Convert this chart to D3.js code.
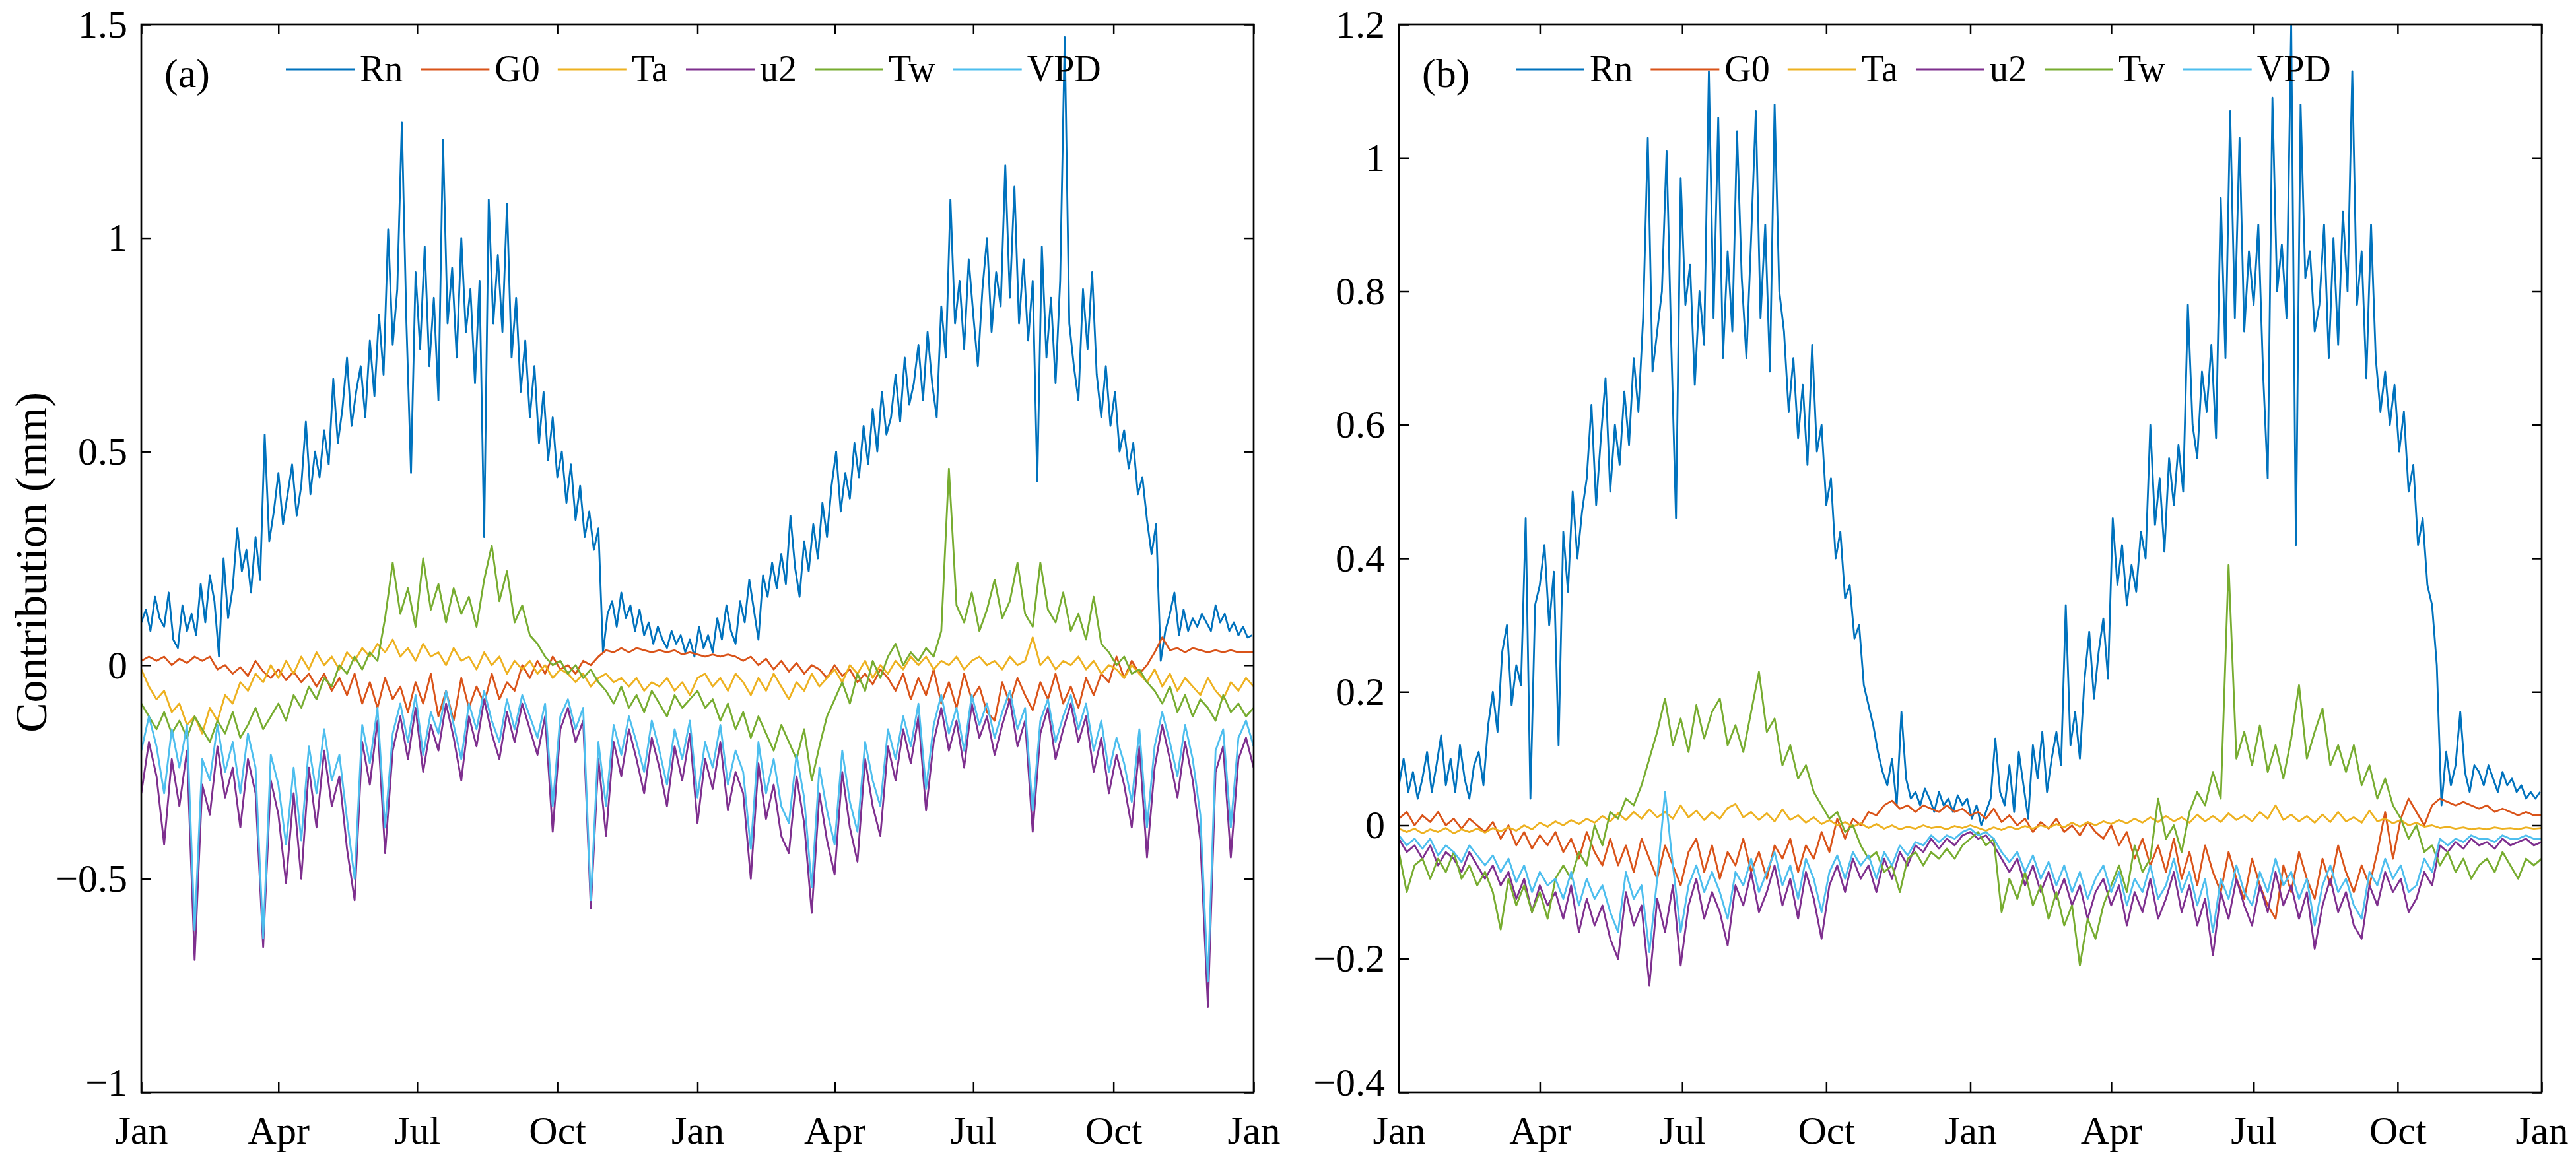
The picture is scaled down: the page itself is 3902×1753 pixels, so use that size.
<!DOCTYPE html>
<html>
<head>
<meta charset="utf-8">
<script src="https://cdn.jsdelivr.net/npm/d3@7"></script>
<style>
  body { margin: 0; background: #fff; }
  text { font-family: "Liberation Serif", "Times New Roman", serif; fill: #000; }
</style>
</head>
<body>
<svg id="chart"></svg>
<script>
// series order = plotting order = legend order
var seriesNames = ["Rn", "G0", "Ta", "u2", "Tw", "VPD"];
var seriesColors = ["#0072BD", "#D95319", "#EDB120", "#7E2F8E", "#77AC30", "#4DBEEE"];

// two years, 1 Jan of year 1 to 1 Jan of year 3
var startDate = new Date(Date.UTC(2018, 0, 1));
var totalDays = 730;
var rnStepDays = 3;   // Rn read every 3 days
var stepDays = 5;     // the other series every 5 days

var monthTickLabels = ["Jan", "Apr", "Jul", "Oct", "Jan", "Apr", "Jul", "Oct", "Jan"];

// ---- panel (a)
var rnA = [
  0.10, 0.13, 0.08, 0.16, 0.11, 0.09, 0.17, 0.06, 0.04, 0.14,
  0.08, 0.12, 0.07, 0.19, 0.10, 0.21, 0.15, 0.02, 0.25, 0.11,
  0.18, 0.32, 0.22, 0.27, 0.17, 0.30, 0.20, 0.54, 0.29, 0.36,
  0.45, 0.33, 0.40, 0.47, 0.35, 0.42, 0.57, 0.40, 0.50, 0.44,
  0.55, 0.47, 0.67, 0.52, 0.60, 0.72, 0.56, 0.64, 0.70, 0.58,
  0.76, 0.63, 0.82, 0.68, 1.02, 0.75, 0.88, 1.27, 0.80, 0.45,
  0.92, 0.74, 0.98, 0.70, 0.86, 0.62, 1.23, 0.80, 0.93, 0.72,
  1.00, 0.78, 0.88, 0.66, 0.90, 0.30, 1.09, 0.80, 0.96, 0.78,
  1.08, 0.72, 0.86, 0.64, 0.76, 0.58, 0.70, 0.52, 0.64, 0.48,
  0.58, 0.44, 0.50, 0.38, 0.47, 0.34, 0.42, 0.30, 0.36, 0.27,
  0.32, 0.03, 0.12, 0.15, 0.09, 0.17, 0.11, 0.14, 0.08, 0.13,
  0.07, 0.10, 0.05, 0.09, 0.06, 0.04, 0.08, 0.05, 0.07, 0.03,
  0.06, 0.02, 0.09, 0.04, 0.07, 0.03, 0.11, 0.06, 0.14, 0.08,
  0.05, 0.15, 0.10, 0.20, 0.13, 0.06, 0.21, 0.16, 0.24, 0.18,
  0.26, 0.19, 0.35, 0.23, 0.16, 0.29, 0.22, 0.33, 0.25, 0.38,
  0.30, 0.42, 0.50, 0.36, 0.45, 0.39, 0.52, 0.44, 0.56, 0.47,
  0.60, 0.50, 0.64, 0.54, 0.58, 0.68, 0.57, 0.72, 0.61, 0.66,
  0.75, 0.62, 0.78, 0.66, 0.58, 0.84, 0.72, 1.09, 0.80, 0.90,
  0.74, 0.95, 0.82, 0.70, 0.88, 1.00, 0.78, 0.92, 0.84, 1.17,
  0.86, 1.12, 0.80, 0.95, 0.76, 0.90, 0.43, 0.98, 0.72, 0.86,
  0.66, 0.90, 1.47, 0.80, 0.70, 0.62, 0.88, 0.74, 0.92, 0.68,
  0.58, 0.70, 0.56, 0.64, 0.50, 0.55, 0.46, 0.52, 0.40, 0.44,
  0.34, 0.26, 0.33, 0.01, 0.08, 0.12, 0.17, 0.07, 0.13, 0.08,
  0.11, 0.09, 0.12, 0.10, 0.08, 0.14, 0.10, 0.12, 0.08, 0.10,
  0.07, 0.09, 0.065, 0.07
];
var g0A = [
  0.01, 0.02, 0.01, 0.02, 0.00, 0.015, 0.005, 0.02, 0.01, 0.02,
  -0.01, 0.00, -0.02, -0.005, -0.025, 0.01, -0.015, -0.03, -0.01, -0.035,
  -0.015, -0.04, -0.02, -0.05, -0.02, -0.06, -0.03, -0.07, -0.02, -0.09,
  -0.04, -0.10, -0.03, -0.08, -0.05, -0.11, -0.04, -0.09, -0.02, -0.12,
  -0.06, -0.13, -0.03, -0.10, -0.05, -0.09, -0.02, -0.08, -0.04, -0.06,
  0.00, -0.03, 0.01, -0.02, 0.02, -0.01, 0.00, -0.02, 0.01, 0.00,
  0.02, 0.035, 0.03, 0.04, 0.03, 0.04, 0.035, 0.03, 0.035, 0.03,
  0.035, 0.025, 0.03, 0.025, 0.02, 0.025, 0.02, 0.025, 0.02, 0.01,
  0.02, 0.00, 0.015, -0.01, 0.01, -0.015, 0.005, -0.02, 0.00, -0.01,
  -0.03, 0.00, -0.025, -0.01, -0.04, -0.02, -0.045, -0.01, -0.03, -0.06,
  -0.02, -0.08, -0.03, -0.07, -0.01, -0.09, -0.04, -0.10, -0.02, -0.08,
  -0.05, -0.11, -0.13, -0.04, -0.09, -0.03, -0.07, -0.105, -0.04, -0.08,
  -0.02, -0.09, -0.05, -0.10, -0.03, -0.07, -0.02, -0.04, 0.02, -0.03,
  0.01, -0.02, 0.00, 0.03, 0.065, 0.035, 0.04, 0.03, 0.04, 0.035,
  0.03, 0.035, 0.03, 0.035, 0.03, 0.03, 0.03
];
var taA = [
  -0.01, -0.05, -0.08, -0.06, -0.11, -0.09, -0.14, -0.12, -0.16, -0.10,
  -0.13, -0.07, -0.09, -0.04, -0.06, -0.02, -0.04, 0.00, -0.03, 0.01,
  -0.02, 0.02, -0.01, 0.03, 0.00, 0.02, -0.01, 0.03, 0.01, 0.04,
  0.02, 0.05, 0.03, 0.06, 0.02, 0.04, 0.01, 0.05, 0.02, 0.03,
  0.00, 0.04, 0.01, 0.02, -0.01, 0.03, 0.00, 0.02, -0.02, 0.01,
  -0.01, 0.01, -0.02, 0.00, -0.03, -0.01, -0.02, -0.04, -0.02, -0.05,
  -0.03, -0.02, -0.04, -0.03, -0.05, -0.03, -0.06, -0.04, -0.05, -0.03,
  -0.06, -0.04, -0.07, -0.03, -0.02, -0.05, -0.03, -0.06, -0.02, -0.04,
  -0.07, -0.03, -0.06, -0.02, -0.05, -0.08, -0.04, -0.06, -0.02, -0.05,
  -0.03, -0.01, -0.04, 0.00, -0.02, 0.01, -0.03, 0.00, -0.02, 0.01,
  -0.01, 0.02, 0.00, 0.02, -0.01, 0.01, 0.00, 0.02, -0.01, 0.01,
  0.02, 0.00, 0.01, -0.01, 0.02, 0.00, 0.01, 0.065, 0.00, 0.02,
  -0.01, 0.01, 0.00, 0.02, -0.01, 0.01, -0.02, 0.00, -0.01, -0.03,
  0.00, -0.02, -0.04, -0.01, -0.05, -0.02, -0.06, -0.03, -0.05, -0.07,
  -0.03, -0.06, -0.08, -0.04, -0.06, -0.03, -0.05
];
var u2A = [
  -0.30, -0.18, -0.26, -0.42, -0.22, -0.33, -0.20, -0.69, -0.28, -0.35,
  -0.19, -0.31, -0.24, -0.38, -0.22, -0.30, -0.66, -0.27, -0.35, -0.51,
  -0.30, -0.50, -0.24, -0.38, -0.20, -0.33, -0.26, -0.43, -0.55, -0.18,
  -0.28, -0.13, -0.44, -0.20, -0.12, -0.22, -0.10, -0.25, -0.14, -0.20,
  -0.09, -0.17, -0.27, -0.12, -0.19, -0.08, -0.16, -0.22, -0.11, -0.18,
  -0.09, -0.15, -0.21, -0.12, -0.39, -0.15, -0.10, -0.18, -0.13, -0.57,
  -0.22, -0.40, -0.18, -0.26, -0.15, -0.22, -0.30, -0.17, -0.24, -0.33,
  -0.19, -0.27, -0.16, -0.37, -0.22, -0.29, -0.18, -0.34, -0.25, -0.30,
  -0.50, -0.23, -0.36, -0.28, -0.40, -0.44, -0.26, -0.37, -0.58, -0.30,
  -0.41, -0.49, -0.25, -0.38, -0.46, -0.22, -0.33, -0.40, -0.19, -0.27,
  -0.15, -0.23, -0.12, -0.34, -0.18, -0.10, -0.20, -0.13, -0.24, -0.09,
  -0.17, -0.12, -0.21, -0.14, -0.08, -0.19, -0.13, -0.39, -0.16, -0.10,
  -0.22, -0.15, -0.09, -0.18, -0.12, -0.25, -0.17, -0.30, -0.21, -0.28,
  -0.38, -0.19, -0.45, -0.24, -0.14, -0.22, -0.31, -0.18, -0.27, -0.41,
  -0.80, -0.25, -0.19, -0.45, -0.22, -0.17, -0.24
];
var twA = [
  -0.09, -0.12, -0.15, -0.11, -0.16, -0.13, -0.17, -0.12, -0.15, -0.18,
  -0.13, -0.16, -0.11, -0.17, -0.14, -0.10, -0.15, -0.12, -0.09, -0.13,
  -0.07, -0.10, -0.05, -0.08, -0.03, -0.05, 0.00, -0.02, 0.02, -0.01,
  0.03, 0.01, 0.11, 0.24, 0.12, 0.18, 0.09, 0.25, 0.13, 0.19,
  0.10, 0.18, 0.12, 0.16, 0.09, 0.20, 0.28, 0.15, 0.22, 0.10,
  0.14, 0.07, 0.05, 0.02, 0.00, 0.01, -0.02, 0.00, -0.03, -0.01,
  -0.04, -0.06, -0.09, -0.05, -0.10, -0.07, -0.11, -0.06, -0.09, -0.12,
  -0.07, -0.10, -0.08, -0.06, -0.10, -0.08, -0.13, -0.09, -0.15, -0.11,
  -0.17, -0.12, -0.16, -0.20, -0.14, -0.18, -0.22, -0.15, -0.27, -0.19,
  -0.12, -0.08, -0.04, -0.09, -0.02, -0.06, 0.01, -0.03, 0.02, 0.05,
  0.00, 0.03, 0.01, 0.04, 0.02, 0.08, 0.46, 0.14, 0.10, 0.17,
  0.08, 0.13, 0.20, 0.11, 0.15, 0.24, 0.12, 0.09, 0.24, 0.13,
  0.10, 0.17, 0.08, 0.12, 0.06, 0.16, 0.05, 0.03, 0.00, 0.02,
  -0.02, -0.01, -0.04, -0.06, -0.09, -0.05, -0.11, -0.07, -0.12, -0.08,
  -0.10, -0.13, -0.07, -0.11, -0.09, -0.12, -0.10
];
var vpdA = [
  -0.20, -0.12, -0.19, -0.30, -0.15, -0.24, -0.14, -0.62, -0.22, -0.27,
  -0.14, -0.25, -0.18, -0.30, -0.16, -0.24, -0.64, -0.21, -0.28, -0.42,
  -0.24, -0.41, -0.19, -0.30, -0.15, -0.27, -0.21, -0.36, -0.50, -0.14,
  -0.23, -0.10, -0.38, -0.16, -0.09, -0.18, -0.07, -0.21, -0.11, -0.16,
  -0.06, -0.14, -0.22, -0.09, -0.15, -0.06, -0.13, -0.18, -0.08, -0.15,
  -0.07, -0.12, -0.17, -0.09, -0.33, -0.12, -0.08, -0.15, -0.10, -0.55,
  -0.18, -0.33, -0.14, -0.21, -0.12, -0.18, -0.25, -0.13, -0.20, -0.28,
  -0.15, -0.22, -0.13, -0.31, -0.18, -0.24, -0.14, -0.28, -0.20, -0.25,
  -0.43, -0.18, -0.30, -0.22, -0.33, -0.37, -0.21, -0.31, -0.52, -0.24,
  -0.34, -0.42, -0.20, -0.32, -0.39, -0.18, -0.27, -0.33, -0.15, -0.22,
  -0.12, -0.19, -0.09, -0.29, -0.14, -0.07, -0.16, -0.10, -0.20, -0.07,
  -0.14, -0.09, -0.17, -0.11, -0.06, -0.15, -0.10, -0.34, -0.13, -0.08,
  -0.18, -0.12, -0.07, -0.15, -0.09, -0.20, -0.13, -0.25, -0.17, -0.23,
  -0.32, -0.15, -0.38, -0.19, -0.11, -0.18, -0.26, -0.14, -0.22, -0.35,
  -0.74, -0.20, -0.15, -0.38, -0.17, -0.13, -0.19
];

// ---- panel (b)
var rnB = [
  0.06, 0.10, 0.05, 0.08, 0.04, 0.07, 0.11, 0.05, 0.09, 0.135,
  0.06, 0.10, 0.05, 0.12, 0.07, 0.04, 0.09, 0.11, 0.06, 0.15,
  0.20, 0.14, 0.26, 0.30, 0.18, 0.24, 0.21, 0.46, 0.04, 0.33,
  0.36, 0.42, 0.30, 0.38, 0.12, 0.44, 0.35, 0.50, 0.40, 0.47,
  0.52, 0.63, 0.48, 0.58, 0.67, 0.50, 0.60, 0.54, 0.65, 0.57,
  0.70, 0.62, 0.76, 1.03, 0.68, 0.74, 0.80, 1.01, 0.72, 0.46,
  0.97, 0.78, 0.84, 0.66, 0.80, 0.72, 1.13, 0.76, 1.06, 0.70,
  0.86, 0.74, 1.04, 0.82, 0.70, 0.88, 1.07, 0.76, 0.90, 0.68,
  1.08, 0.80, 0.74, 0.62, 0.70, 0.58, 0.66, 0.54, 0.72, 0.56,
  0.60, 0.48, 0.52, 0.40, 0.44, 0.34, 0.36, 0.28, 0.30, 0.21,
  0.18, 0.15, 0.11, 0.08, 0.06, 0.10, 0.03, 0.17, 0.07, 0.04,
  0.05, 0.03, 0.055, 0.04, 0.02, 0.05, 0.03, 0.04, 0.02, 0.045,
  0.03, 0.04, 0.01, 0.03, 0.00, 0.02, 0.04, 0.13, 0.05, 0.03,
  0.09, 0.02, 0.11, 0.06, 0.01, 0.12, 0.07, 0.14, 0.05, 0.10,
  0.14, 0.09, 0.33, 0.12, 0.17, 0.10, 0.22, 0.29, 0.19, 0.26,
  0.31, 0.22, 0.46, 0.36, 0.42, 0.33, 0.39, 0.35, 0.44, 0.40,
  0.60, 0.45, 0.52, 0.41, 0.55, 0.48, 0.57, 0.50, 0.78, 0.60,
  0.55, 0.68, 0.62, 0.72, 0.58, 0.94, 0.70, 1.07, 0.76, 1.03,
  0.74, 0.86, 0.78, 0.90, 0.68, 0.52, 1.09, 0.80, 0.87, 0.76,
  1.20, 0.42, 1.08, 0.82, 0.86, 0.74, 0.78, 0.90, 0.70, 0.88,
  0.72, 0.92, 0.80, 1.13, 0.78, 0.86, 0.67, 0.90, 0.70, 0.62,
  0.68, 0.60, 0.66, 0.56, 0.62, 0.50, 0.54, 0.42, 0.46, 0.36,
  0.33, 0.24, 0.03, 0.11, 0.06, 0.09, 0.17, 0.08, 0.05, 0.09,
  0.08, 0.06, 0.09, 0.07, 0.05, 0.08, 0.06, 0.07, 0.05, 0.06,
  0.04, 0.05, 0.04, 0.05
];
var g0B = [
  0.01, 0.02, 0.00, 0.015, 0.005, 0.02, 0.00, 0.01, -0.005, 0.01,
  0.00, -0.01, 0.005, -0.02, 0.00, -0.03, -0.01, -0.035, -0.015, -0.03,
  -0.01, -0.04, -0.02, -0.05, -0.01, -0.04, -0.06, -0.02, -0.06, -0.03,
  -0.07, -0.02, -0.05, -0.08, -0.03, -0.06, -0.09, -0.04, -0.02, -0.07,
  -0.03, -0.08, -0.04, -0.06, -0.02, -0.07, -0.04, -0.08, -0.03, -0.05,
  -0.02, -0.07, -0.03, -0.05, -0.01, -0.04, 0.01, -0.02, 0.01, 0.00,
  0.02, 0.015, 0.03, 0.037, 0.025, 0.03, 0.02, 0.03, 0.025, 0.02,
  0.03, 0.02, 0.025, 0.015, 0.02, 0.01, 0.025, 0.005, 0.015, 0.00,
  0.01, -0.01, 0.005, -0.005, 0.01, -0.01, 0.00, -0.015, 0.005, -0.01,
  -0.02, 0.00, -0.03, -0.01, -0.05, -0.02, -0.06, -0.03, -0.07, -0.02,
  -0.08, -0.04, -0.09, -0.03, -0.07, -0.10, -0.04, -0.08, -0.11, -0.05,
  -0.09, -0.12, -0.14, -0.06, -0.10, -0.04, -0.08, -0.11, -0.05, -0.09,
  -0.03, -0.07, -0.10, -0.06, -0.09, -0.04, 0.02, -0.05, 0.01, 0.04,
  0.02, 0.00, 0.03, 0.04, 0.035, 0.03, 0.035, 0.03, 0.025, 0.03,
  0.02, 0.025, 0.02, 0.015, 0.02, 0.015, 0.015
];
var taB = [
  -0.005, -0.01, -0.005, -0.012, -0.006, -0.01, -0.004, -0.012, -0.006, -0.01,
  -0.005, -0.011, -0.004, -0.009, -0.003, -0.008, 0.00, -0.006, 0.004, -0.002,
  0.006, 0.00, 0.008, 0.002, 0.01, 0.004, 0.014, 0.006, 0.018, 0.008,
  0.02, 0.01, 0.024, 0.012, 0.02, 0.01, 0.03, 0.012, 0.022, 0.008,
  0.02, 0.01, 0.026, 0.032, 0.012, 0.02, 0.008, 0.018, 0.006, 0.024,
  0.008, 0.015, 0.004, 0.012, 0.002, 0.008, 0.00, 0.005, -0.002, 0.003,
  -0.004, 0.002, -0.005, 0.00, -0.006, -0.002, -0.005, 0.00, -0.004, -0.002,
  -0.006, -0.001, -0.004, 0.00, -0.004, -0.008, -0.003, -0.007, -0.002, -0.006,
  -0.001, -0.005, 0.00, -0.004, 0.002, -0.003, 0.004, -0.002, 0.005, 0.00,
  0.006, 0.002, 0.008, 0.003, 0.01, 0.004, 0.012, 0.005, 0.014, 0.006,
  0.012, 0.004, 0.016, 0.006, 0.014, 0.005, 0.018, 0.008, 0.015, 0.006,
  0.02, 0.01, 0.03, 0.008, 0.016, 0.006, 0.014, 0.004, 0.016, 0.005,
  0.02, 0.006, 0.012, 0.004, 0.022, 0.006, 0.01, 0.003, 0.008, 0.00,
  0.004, -0.002, 0.00, -0.004, -0.002, -0.005, -0.003, -0.006, -0.004, -0.006,
  -0.003, -0.005, -0.004, -0.006, -0.003, -0.005, -0.004
];
var u2B = [
  -0.02, -0.04, -0.03, -0.05, -0.03, -0.06, -0.04, -0.05, -0.07, -0.04,
  -0.06, -0.08, -0.06, -0.09, -0.07, -0.11, -0.08, -0.13, -0.09, -0.12,
  -0.10, -0.14, -0.09, -0.16, -0.11, -0.15, -0.12, -0.17, -0.20, -0.10,
  -0.15, -0.12, -0.24, -0.11, -0.16, -0.09, -0.21, -0.12, -0.08, -0.14,
  -0.10, -0.13, -0.18, -0.09, -0.12, -0.07, -0.13, -0.10, -0.06, -0.12,
  -0.08, -0.14, -0.07, -0.11, -0.17, -0.09, -0.06, -0.10, -0.05, -0.08,
  -0.06, -0.10, -0.05, -0.08, -0.04, -0.06, -0.03, -0.04, -0.02, -0.035,
  -0.02, -0.03, -0.015, -0.01, -0.02, -0.015, -0.03, -0.05, -0.07, -0.05,
  -0.09, -0.06, -0.10, -0.07, -0.11, -0.08, -0.12, -0.09, -0.14, -0.10,
  -0.08, -0.12, -0.09, -0.15, -0.10, -0.13, -0.08, -0.14, -0.11, -0.07,
  -0.13, -0.09, -0.15, -0.11, -0.195, -0.10, -0.14, -0.08, -0.12, -0.15,
  -0.09, -0.13, -0.07, -0.12, -0.09, -0.14, -0.10, -0.185, -0.12, -0.08,
  -0.13, -0.10, -0.15, -0.17, -0.09, -0.12, -0.07, -0.10, -0.08, -0.13,
  -0.11, -0.07, -0.09, -0.03, -0.04, -0.025, -0.035, -0.02, -0.03, -0.025,
  -0.035, -0.02, -0.03, -0.025, -0.02, -0.03, -0.025
];
var twB = [
  -0.04, -0.10, -0.06, -0.05, -0.08, -0.05, -0.07, -0.04, -0.08, -0.06,
  -0.09, -0.07, -0.10, -0.156, -0.08, -0.12, -0.09, -0.13, -0.10, -0.14,
  -0.08, -0.06, -0.08, -0.04, -0.06, 0.00, -0.03, 0.02, 0.01, 0.04,
  0.03, 0.06, 0.10, 0.14, 0.19, 0.12, 0.16, 0.11, 0.18, 0.13,
  0.17, 0.19, 0.12, 0.15, 0.11, 0.17, 0.23, 0.14, 0.16, 0.09,
  0.12, 0.07, 0.09, 0.05, 0.03, 0.01, 0.02, -0.01, 0.00, -0.03,
  -0.05, -0.04, -0.07, -0.06, -0.10, -0.05, -0.04, -0.06, -0.04, -0.05,
  -0.035, -0.05, -0.03, -0.02, -0.01, -0.03, -0.02, -0.13, -0.08, -0.11,
  -0.07, -0.12, -0.09, -0.14, -0.10, -0.15, -0.12, -0.21, -0.14, -0.17,
  -0.12, -0.09, -0.06, -0.10, -0.03, -0.07, -0.05, 0.04, -0.02, 0.00,
  -0.04, 0.02, 0.05, 0.03, 0.08, 0.04, 0.39, 0.10, 0.14, 0.09,
  0.15, 0.08, 0.12, 0.07, 0.13, 0.21, 0.10, 0.14, 0.175, 0.09,
  0.12, 0.08, 0.12, 0.06, 0.09, 0.04, 0.07, 0.03, 0.01, -0.02,
  0.00, -0.04, -0.03, -0.06, -0.04, -0.07, -0.05, -0.08, -0.06, -0.05,
  -0.07, -0.04, -0.06, -0.08, -0.05, -0.06, -0.05
];
var vpdB = [
  -0.015, -0.03, -0.02, -0.035, -0.02, -0.045, -0.03, -0.04, -0.055, -0.03,
  -0.045, -0.06, -0.045, -0.07, -0.05, -0.085, -0.06, -0.10, -0.07, -0.09,
  -0.08, -0.11, -0.07, -0.12, -0.08, -0.11, -0.09, -0.13, -0.16, -0.07,
  -0.11, -0.09, -0.19, -0.08, 0.05, -0.06, -0.16, -0.09, -0.06, -0.10,
  -0.07, -0.10, -0.14, -0.07, -0.09, -0.05, -0.10, -0.07, -0.04, -0.09,
  -0.06, -0.11, -0.05, -0.08, -0.13, -0.07, -0.045, -0.08, -0.04, -0.06,
  -0.045, -0.08, -0.04, -0.06, -0.03, -0.045, -0.025, -0.03, -0.015, -0.025,
  -0.015, -0.02, -0.01, -0.005, -0.015, -0.01, -0.02, -0.04, -0.055, -0.04,
  -0.07, -0.045, -0.08, -0.055, -0.09, -0.06, -0.10, -0.07, -0.11, -0.08,
  -0.06, -0.10, -0.07, -0.12, -0.08, -0.10, -0.06, -0.11, -0.09, -0.05,
  -0.10, -0.07, -0.12, -0.08, -0.16, -0.08, -0.11, -0.06, -0.10, -0.12,
  -0.07, -0.10, -0.05, -0.09, -0.07, -0.11, -0.08, -0.15, -0.09, -0.06,
  -0.10, -0.08, -0.12, -0.14, -0.07, -0.09, -0.05, -0.08, -0.06, -0.10,
  -0.09, -0.05, -0.07, -0.02, -0.03, -0.02, -0.025, -0.015, -0.02, -0.02,
  -0.025, -0.015, -0.02, -0.02, -0.015, -0.02, -0.02
];

var yTicksA = [-1, -0.5, 0, 0.5, 1, 1.5];
var yTicksB = [-0.4, -0.2, 0, 0.2, 0.4, 0.6, 0.8, 1, 1.2];

var width = 3902;
var height = 1753;
var tickFont = 60;
var lineW = 2.8;

var panels = [
  { id: "a", label: "(a)", left: 214, right: 1899, top: 37, bottom: 1655,
    yDomain: [-1, 1.5], yTicks: yTicksA, legendX: 433,
    series: [rnA, g0A, taA, u2A, twA, vpdA] },
  { id: "b", label: "(b)", left: 2119, right: 3850, top: 37, bottom: 1655,
    yDomain: [-0.4, 1.2], yTicks: yTicksB, legendX: 2296,
    series: [rnB, g0B, taB, u2B, twB, vpdB] }
];
var seriesSteps = [rnStepDays, stepDays, stepDays, stepDays, stepDays, stepDays];

var endDate = d3.utcDay.offset(startDate, totalDays);

var svg = d3.select("#chart")
  .attr("width", width)
  .attr("height", height)
  .attr("viewBox", "0 0 " + width + " " + height);

svg.append("rect").attr("width", width).attr("height", height).attr("fill", "#fff");

function drawPanel(p) {
  var x = d3.scaleUtc().domain([startDate, endDate]).range([p.left, p.right]);
  var y = d3.scaleLinear().domain(p.yDomain).range([p.bottom, p.top]);
  var g = svg.append("g").attr("class", "panel-" + p.id);

  g.append("clipPath").attr("id", "clip-" + p.id)
    .append("rect")
    .attr("x", p.left).attr("y", p.top)
    .attr("width", p.right - p.left).attr("height", p.bottom - p.top);

  var plot = g.append("g").attr("clip-path", "url(#clip-" + p.id + ")");
  p.series.forEach(function (vals, k) {
    var step = seriesSteps[k];
    var line = d3.line()
      .x(function (d, i) { return x(d3.utcDay.offset(startDate, i * step)); })
      .y(function (d) { return y(d); });
    plot.append("path")
      .datum(vals)
      .attr("d", line)
      .attr("fill", "none")
      .attr("stroke", seriesColors[k])
      .attr("stroke-width", lineW)
      .attr("stroke-linejoin", "round");
  });

  var xTicks = x.ticks(d3.utcMonth.every(3));

  // bottom axis, ticks pointing in
  var xb = g.append("g")
    .attr("transform", "translate(0," + p.bottom + ")")
    .call(d3.axisBottom(x).tickValues(xTicks).tickSize(-15).tickPadding(35)
      .tickFormat(function (d, i) { return monthTickLabels[i]; }));
  // top axis, ticks only
  var xt = g.append("g")
    .attr("transform", "translate(0," + p.top + ")")
    .call(d3.axisTop(x).tickValues(xTicks).tickSize(-15).tickFormat(""));
  // left axis
  var yl = g.append("g")
    .attr("transform", "translate(" + p.left + ",0)")
    .call(d3.axisLeft(y).tickValues(p.yTicks).tickSize(-15).tickPadding(21)
      .tickFormat(d3.format(".1~f")));
  // right axis, ticks only
  var yr = g.append("g")
    .attr("transform", "translate(" + p.right + ",0)")
    .call(d3.axisRight(y).tickValues(p.yTicks).tickSize(-15).tickFormat(""));

  [xb, xt, yl, yr].forEach(function (ax) {
    ax.attr("font-size", tickFont)
      .attr("font-family", "'Liberation Serif', 'Times New Roman', serif");
    ax.select(".domain").remove();
    ax.selectAll(".tick line").attr("stroke", "#000").attr("stroke-width", 2.5);
    ax.selectAll(".tick text").attr("fill", "#000");
  });

  // lowest y label sits a little above its tick
  yl.selectAll(".tick text")
    .filter(function (d) { return d === p.yDomain[0]; })
    .attr("y", -15);

  // box
  g.append("rect")
    .attr("x", p.left).attr("y", p.top)
    .attr("width", p.right - p.left).attr("height", p.bottom - p.top)
    .attr("fill", "none")
    .attr("stroke", "#000")
    .attr("stroke-width", 2.7);

  // panel tag
  g.append("text")
    .attr("x", p.left + 35)
    .attr("y", 132)
    .attr("font-size", 62)
    .text(p.label);

  // legend
  var lx = p.legendX;
  var ly = 105;
  seriesNames.forEach(function (name, k) {
    g.append("line")
      .attr("x1", lx).attr("x2", lx + 104)
      .attr("y1", ly).attr("y2", ly)
      .attr("stroke", seriesColors[k])
      .attr("stroke-width", lineW);
    var t = g.append("text")
      .attr("x", lx + 112)
      .attr("y", ly + 18)
      .attr("font-size", 56)
      .text(name);
    lx += 112 + t.node().getComputedTextLength() + 27;
  });
}

panels.forEach(drawPanel);

// shared y axis title
svg.append("text")
  .attr("transform", "translate(70,852) rotate(-90)")
  .attr("text-anchor", "middle")
  .attr("font-size", 68)
  .text("Contribution (mm)");
</script>
</body>
</html>
